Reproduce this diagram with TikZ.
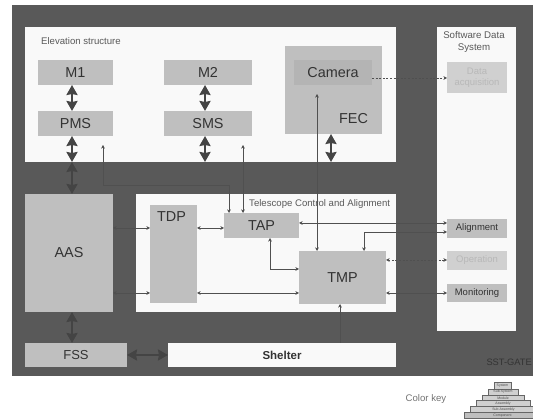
\documentclass[tikz,border=0pt]{standalone}
\usepackage{fontspec}
\setmainfont{Liberation Sans}
\usetikzlibrary{arrows.meta,calc}
\definecolor{panel}{HTML}{595959}
\definecolor{paper}{HTML}{F9F9F9}
\definecolor{boxg}{HTML}{BFBFBF}
\definecolor{boxh}{HTML}{B4B4B4}
\definecolor{boxl}{HTML}{D0D0D0}
\definecolor{ink}{HTML}{333333}
\definecolor{wire}{HTML}{505050}
\definecolor{fat}{HTML}{444444}
\tikzset{
  rect/.style={anchor=north west,inner sep=0pt,outer sep=0pt,draw=none,text=ink,align=center},
  big/.style={font=\fontsize{14.4}{16}\selectfont},
  mid/.style={font=\fontsize{9.5}{11}\selectfont},
  faint/.style={font=\fontsize{9.5}{11.5}\selectfont,text=black!28},
  boxtext/.style={big,text=ink,inner sep=0pt},
  smalltext/.style={inner sep=0pt,align=center},
  fatarrow/.style={line width=2.4pt,draw=fat,{Stealth[length=10pt,width=11pt,inset=1pt]}-{Stealth[length=10pt,width=11pt,inset=1pt]}},
  thin/.style={line width=.55pt,draw=wire,-{Stealth[length=3.6pt,width=3.6pt]}},
  thinb/.style={line width=.55pt,draw=wire,{Stealth[length=3.6pt,width=3.6pt]}-{Stealth[length=3.6pt,width=3.6pt]}},
  thinr/.style={line width=.55pt,draw=wire,{Stealth[length=3.6pt,width=3.6pt]}-},
  dash line/.style={dash pattern=on 2pt off 1.6pt},
  tier/.style={rect,draw=black!60,line width=.45pt,font=\fontsize{3.5}{3.5}\selectfont,text=black!70,anchor=center}
}
% name, x1, y1, x2, y2, style, text
\newcommand{\bx}[7]{%
  \path let \n1={#4-#2},\n2={#5-#3} in
  node[rect,#6,minimum width=\n1 pt,minimum height=\n2 pt] (#1) at (#2,#3) {#7};}
\begin{document}
\begin{tikzpicture}[x=1pt,y=-1pt]
\useasboundingbox (0,0) rectangle (533,419);
\bx{outer}{12}{5}{533}{376}{fill=panel}{}
\bx{elev}{25}{27}{396}{162}{fill=paper}{}
\bx{sds}{437}{27}{516}{331}{fill=paper}{}
\bx{tca}{136}{194}{396}{312}{fill=paper}{}
\bx{m1}{38}{60}{113}{85}{fill=boxg,big}{M1}
\bx{pms}{38}{111}{113}{136}{fill=boxg,big}{PMS}
\bx{m2}{164}{60}{252}{85}{fill=boxg,big}{M2}
\bx{sms}{164}{111}{252}{136}{fill=boxg,big}{SMS}
\bx{fec}{285}{46}{382}{134}{fill=boxg}{}
\bx{camera}{294}{60}{372}{85}{fill=boxh,big}{Camera}
\bx{aas}{25}{194}{113}{312}{fill=boxg,big}{AAS}
\bx{tdp}{150}{205}{197}{303}{fill=boxg}{}
\bx{tap}{224}{213}{299}{238}{fill=boxg,big}{TAP}
\bx{tmp}{299}{251}{386}{304}{fill=boxg,font=\fontsize{14.4}{16}\selectfont}{TMP}
\bx{fss}{25}{343}{127}{367}{fill=boxg,font=\fontsize{13}{14}\selectfont}{FSS}
\bx{shelter}{168}{343}{396}{367}{fill=paper,font=\bfseries\fontsize{11.5}{14}\selectfont}{Shelter}
\bx{data}{447}{62}{507}{93}{fill=boxl,faint}{Data\\acquisition}
\bx{align}{447}{219}{507}{238}{fill=boxg,mid}{Alignment}
\bx{oper}{447}{251}{507}{270}{fill=boxl,faint}{Operation}
\bx{moni}{447}{284}{507}{302}{fill=boxg,mid}{Monitoring}
\node[boxtext,anchor=center] (feclab) at (353.5,119) {FEC};
\node[boxtext,anchor=center] (tdplab) at (171.5,217) {TDP};
\node[smalltext,text=black!65,anchor=west,font=\fontsize{9.6}{11}\selectfont] (elevlab) at (41,41) {Elevation structure};
\node[smalltext,text=black!65,anchor=center,font=\fontsize{9.7}{12}\selectfont] (sdslab) at (474,42.5) {Software Data\\System};
\node[smalltext,text=black!65,anchor=west,font=\fontsize{9.6}{11}\selectfont] (tcalab) at (249,204) {Telescope Control and Alignment};
\node[smalltext,text=ink,anchor=east,font=\fontsize{9.3}{11}\selectfont] (sst) at (532,362) {SST-GATE};
\node[smalltext,text=black!55,anchor=west,font=\fontsize{9.6}{11}\selectfont] (key) at (405.5,399) {Color key};
% colour key pyramid
\foreach \nm/\xa/\xb/\ya/\yb/\cc/\tt in {
  ta/494/511/382.5/389/boxl/System,
  tb/488/518/389/395/boxl/Sub-System,
  tc/482/524/395/400.7/boxl/Module,
  td/476/530/400.7/406.7/boxl/Assembly,
  te/470/537/406.7/412.3/boxl/Sub Assembly,
  tf/464/541/412.3/418.3/boxg/Component}{
  \node[tier,fill=\cc,minimum width=\xb pt-\xa pt,minimum height=\yb pt-\ya pt] (\nm) at ({(\xa+\xb)/2},{(\ya+\yb)/2}) {\tt};
}
% named free ends
\coordinate (pmsup) at (103,145);
\coordinate (smsup) at (243,145);
\coordinate (camin) at (317,94);
\coordinate (elevb) at (72,162);
% heavy arrows
\draw[fatarrow] (m1.south -| 72,0) -- (pms.north -| 72,0);
\draw[fatarrow] (pms.south -| 72,0) -- (elevb);
\draw[fatarrow] (elevb) -- (aas.north -| 72,0);
\draw[fatarrow] (m2.south -| 205,0) -- (sms.north -| 205,0);
\draw[fatarrow] (sms.south -| 205,0) -- (elev.south -| 205,0);
\draw[fatarrow] (fec.south -| 331,0) -- (elev.south -| 331,0);
\draw[fatarrow] (aas.south -| 72,0) -- (fss.north -| 72,0);
\draw[fatarrow] (fss.east |- 0,355) -- (shelter.west |- 0,355);
% thin connectors
\draw[thinb] (pmsup) -- (103,185) -| (tap.north -| 229,0);
\draw[thinb] (smsup) -- (tap.north -| 243,0);
\draw[thinb] (camin) -- (tmp.north -| 317,0);
\draw[thin,dash line] (camera.east |- 0,78) -- (data.west |- 0,78);
\draw[thinb] (aas.east |- 0,228) -- (tdp.west |- 0,228);
\draw[thinb] (tdp.east |- 0,228) -- (tap.west |- 0,228);
\draw[thinb] (aas.east |- 0,293) -- (tdp.west |- 0,293);
\draw[thinb] (tdp.east |- 0,293) -- (tmp.west |- 0,293);
\draw[thinb] (tap.east |- 0,223) -- (align.west |- 0,223);
\draw[thinb] (tmp.north -| 364,0) -- (364,232) -- (align.west |- 0,232);
\draw[thinb] (tap.south -| 270,0) -- (270,269) -- (tmp.west |- 0,269);
\draw[thinb,dash line] (tmp.east |- 0,260) -- (oper.west |- 0,260);
\draw[thinb] (tmp.east |- 0,293) -- (moni.west |- 0,293);
\draw[thinr] (tmp.south -| 340,0) -- (shelter.north -| 340,0);
\end{tikzpicture}
\end{document}
